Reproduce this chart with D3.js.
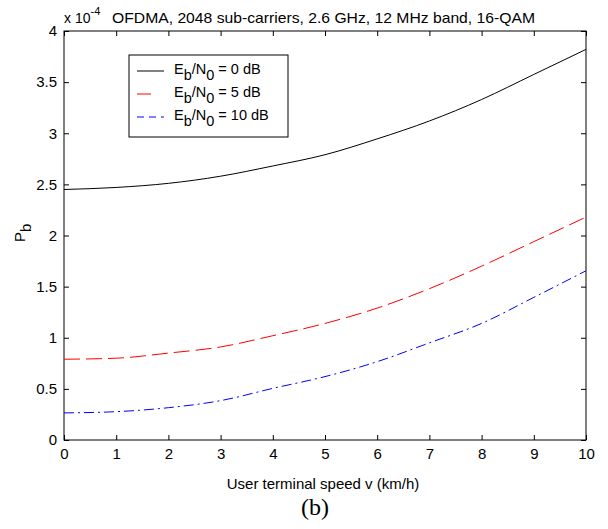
<!DOCTYPE html>
<html><head><meta charset="utf-8">
<script src="https://cdn.jsdelivr.net/npm/d3@7"></script>
<style>body{margin:0;background:#fff;} svg{display:block;font-family:"Liberation Sans",Arial,sans-serif;}</style>
</head><body>
<svg id="c" width="608" height="529"></svg>
<script>
const speeds = [0,1,2,3,4,5,6,7,8,9,10];
const pb0  = [2.45,2.47,2.51,2.58,2.68,2.79,2.945,3.12,3.33,3.575,3.82];
const pb5  = [0.79,0.80,0.85,0.91,1.02,1.14,1.29,1.48,1.70,1.94,2.18];
const pb10 = [0.265,0.277,0.316,0.385,0.505,0.62,0.766,0.95,1.14,1.395,1.655];
const xTicks = [0,1,2,3,4,5,6,7,8,9,10];
const yTicks = [0,0.5,1,1.5,2,2.5,3,3.5,4];
const legendLabels = ["0 dB","5 dB","10 dB"];
const titleText = "OFDMA, 2048 sub-carriers, 2.6 GHz, 12 MHz band, 16-QAM";
const xLabel = "User terminal speed v (km/h)";
const caption = "(b)";

const svg = d3.select("#c");
const L=64, R=586, T=31, B=440;
const x = d3.scaleLinear().domain([0,10]).range([L,R]);
const y = d3.scaleLinear().domain([0,4]).range([B,T]);
const fs = 15;

// box
svg.append("rect").attr("x",L).attr("y",T).attr("width",R-L).attr("height",B-T)
  .attr("fill","none").attr("stroke","#000").attr("stroke-width",1);

// axes
const fmt = d => String(d);
const gx = svg.append("g").attr("transform",`translate(0,${B})`)
  .call(d3.axisBottom(x).tickValues(xTicks).tickFormat(fmt).tickSizeInner(-5).tickSizeOuter(0).tickPadding(8));
const gxt = svg.append("g").attr("transform",`translate(0,${T})`)
  .call(d3.axisTop(x).tickValues(xTicks).tickFormat("").tickSizeInner(-5).tickSizeOuter(0));
const gy = svg.append("g").attr("transform",`translate(${L},0)`)
  .call(d3.axisLeft(y).tickValues(yTicks).tickFormat(fmt).tickSizeInner(-5).tickSizeOuter(0).tickPadding(8));
const gyr = svg.append("g").attr("transform",`translate(${R},0)`)
  .call(d3.axisRight(y).tickValues(yTicks).tickFormat("").tickSizeInner(-5).tickSizeOuter(0));
[gx,gxt,gy,gyr].forEach(g=>{
  g.select(".domain").remove();
  g.selectAll("line").attr("stroke","#000");
  g.selectAll("text").attr("font-size",fs).attr("fill","#000").attr("font-family","'Liberation Sans',Arial,sans-serif");
});
gy.selectAll("text").attr("dx",1);

// lines
const series = [
  {vals:pb0, color:"#000", dash:null},
  {vals:pb5, color:"#ff0000", dash:"16,6"},
  {vals:pb10, color:"#0000ff", dash:"10,4,2,4"}
];
const line = d3.line().x(d=>x(d[0])).y(d=>y(d[1])).curve(d3.curveMonotoneX);
series.forEach(s=>{
  svg.append("path").datum(speeds.map((v,i)=>[v,s.vals[i]]))
    .attr("d",line).attr("fill","none").attr("stroke",s.color).attr("stroke-width",1)
    .attr("stroke-dasharray",s.dash);
});

// legend
const lg = svg.append("g");
lg.append("rect").attr("x",129).attr("y",55).attr("width",159).attr("height",82)
  .attr("fill","#fff").attr("stroke","#000").attr("stroke-width",1);
const rows=[71,94,117];
series.forEach((s,i)=>{
  lg.append("line").attr("x1",137).attr("x2",164).attr("y1",rows[i]).attr("y2",rows[i])
    .attr("stroke",s.color).attr("stroke-width",1).attr("stroke-dasharray",i===0?null:(i===1?"14,14":"7,5"));
  const t = lg.append("text").attr("x",174).attr("y",rows[i]+3).attr("font-size",14.5).attr("fill","#000");
  t.append("tspan").text("E");
  t.append("tspan").attr("dy",6).text("b");
  t.append("tspan").attr("dy",-6).text("/N");
  t.append("tspan").attr("dy",6).text("0");
  t.append("tspan").attr("dy",-6).text(" = " + legendLabels[i]);
});

// title
const tt = svg.append("text").attr("x",64).attr("y",23).attr("font-size",14).attr("fill","#000");
tt.append("tspan").text("x 10");
tt.append("tspan").attr("dy",-8).attr("font-size",11).text("-4");
svg.append("text").attr("x",323.5).attr("y",23).attr("text-anchor","middle").attr("font-size",fs).attr("fill","#000")
  .attr("textLength",423).attr("lengthAdjust","spacingAndGlyphs").text(titleText);

// x label
svg.append("text").attr("x",323).attr("y",489).attr("text-anchor","middle")
  .attr("font-size",fs).attr("fill","#000").text(xLabel);

// y label
const yl = svg.append("text").attr("transform","translate(25,242) rotate(-90)")
  .attr("font-size",fs).attr("fill","#000");
yl.append("tspan").text("P");
yl.append("tspan").attr("dy",6).text("b");

// caption
svg.append("text").attr("x",315).attr("y",515).attr("text-anchor","middle")
  .attr("font-family","'Liberation Serif','Times New Roman',serif").attr("font-size",24).attr("fill","#000").text(caption);
</script>
</body></html>
